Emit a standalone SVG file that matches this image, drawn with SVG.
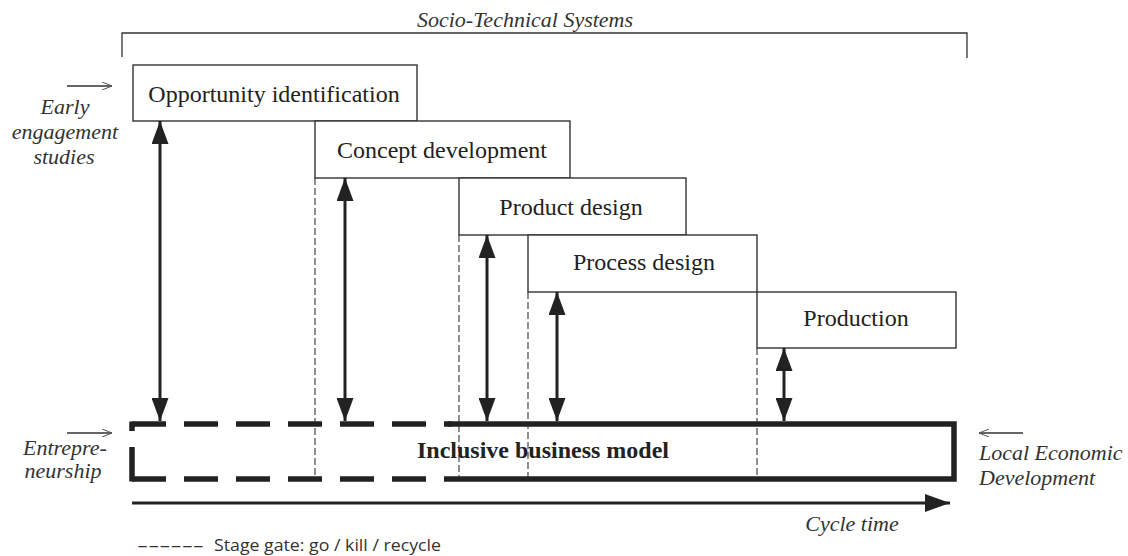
<svg xmlns="http://www.w3.org/2000/svg" width="1128" height="556" viewBox="0 0 1128 556">
<style>
.box{fill:#fff;stroke:#333;stroke-width:1.4}
.t{font-family:"Liberation Serif",serif;font-size:24px;fill:#222;text-anchor:middle}
.it{font-family:"Liberation Serif",serif;font-style:italic;font-size:22px;fill:#333}
.gate{stroke:#555;stroke-width:1.3;stroke-dasharray:7,3;fill:none}
.dbl{stroke:#222;stroke-width:3;fill:none}
.thin{stroke:#333;stroke-width:1.3;fill:none}
.thick{stroke:#222;stroke-width:5.5;fill:none}
</style>
<defs>
<marker id="ah2" viewBox="0 0 23 17" refX="23" refY="8.5" markerWidth="23" markerHeight="17" orient="auto-start-reverse" markerUnits="userSpaceOnUse">
<path d="M0,0 L23,8.5 L0,17 Z" fill="#222"/>
</marker>
<marker id="sm" viewBox="0 0 10 8" refX="10" refY="4" markerWidth="10" markerHeight="8" orient="auto" markerUnits="userSpaceOnUse">
<path d="M0,0 L10,4 L0,8" fill="none" stroke="#555" stroke-width="1"/>
</marker>
<marker id="big" viewBox="0 0 25 18" refX="25" refY="9" markerWidth="25" markerHeight="18" orient="auto" markerUnits="userSpaceOnUse">
<path d="M0,0 L25,9 L0,18 Z" fill="#222"/>
</marker>
</defs>

<g id="socio-technical">
<path class="thin" d="M122,57 V33 H967 V58"/>
<text class="it" x="525" y="27" text-anchor="middle">Socio-Technical Systems</text>
</g>

<g id="early-engagement">
<line class="thin" x1="67" y1="86" x2="112" y2="86" marker-end="url(#sm)"/>
<text class="it" x="65" y="114" text-anchor="middle">Early</text>
<text class="it" x="65" y="139" text-anchor="middle">engagement</text>
<text class="it" x="64" y="164" text-anchor="middle">studies</text>
</g>

<g id="entrepreneurship">
<line class="thin" x1="67" y1="433" x2="112" y2="433" marker-end="url(#sm)"/>
<text class="it" x="65" y="455" text-anchor="middle">Entrepre-</text>
<text class="it" x="63" y="478" text-anchor="middle">neurship</text>
</g>

<g id="local-economic">
<line class="thin" x1="1023" y1="433" x2="979" y2="433" marker-end="url(#sm)"/>
<text class="it" x="979" y="460">Local Economic</text>
<text class="it" x="979" y="485">Development</text>
</g>

<g id="stage-gates">
<line class="gate" x1="315" y1="178" x2="315" y2="479"/>
<line class="gate" x1="459" y1="235" x2="459" y2="479"/>
<line class="gate" x1="528" y1="292" x2="528" y2="479"/>
<line class="gate" x1="757" y1="348" x2="757" y2="479"/>
</g>

<g id="opportunity-identification">
<rect class="box" x="133" y="65" width="284" height="56"/>
<text class="t" x="274" y="102">Opportunity identification</text>
</g>
<g id="concept-development">
<rect class="box" x="315" y="121" width="255" height="57"/>
<text class="t" x="442" y="158">Concept development</text>
</g>
<g id="product-design">
<rect class="box" x="459" y="178" width="227" height="57"/>
<text class="t" x="571" y="215">Product design</text>
</g>
<g id="process-design">
<rect class="box" x="528" y="235" width="229" height="57"/>
<text class="t" x="644" y="270">Process design</text>
</g>
<g id="production">
<rect class="box" x="757" y="292" width="199" height="56"/>
<text class="t" x="856" y="326">Production</text>
</g>

<g id="inclusive-business-model">
<path class="thick" d="M448,424 H954 V479 H452"/>
<path class="thick" d="M132,424 H452 M132,479 H452" stroke-dasharray="34,18"/>
<path class="thick" d="M132,421.5 V431 M132,447 V481.5"/>
<text x="543" y="458" font-family="Liberation Serif,serif" font-weight="bold" font-size="24" fill="#222" text-anchor="middle">Inclusive business model</text>
</g>

<g id="connectors">
<line class="dbl" x1="160" y1="121" x2="160" y2="421" marker-start="url(#ah2)" marker-end="url(#ah2)"/>
<line class="dbl" x1="345" y1="178" x2="345" y2="421" marker-start="url(#ah2)" marker-end="url(#ah2)"/>
<line class="dbl" x1="487" y1="235" x2="487" y2="421" marker-start="url(#ah2)" marker-end="url(#ah2)"/>
<line class="dbl" x1="557" y1="292" x2="557" y2="421" marker-start="url(#ah2)" marker-end="url(#ah2)"/>
<line class="dbl" x1="784" y1="348" x2="784" y2="421" marker-start="url(#ah2)" marker-end="url(#ah2)"/>
</g>

<g id="cycle-time">
<line x1="132" y1="503" x2="950" y2="503" stroke="#222" stroke-width="3" marker-end="url(#big)"/>
<text class="it" x="852" y="531" text-anchor="middle">Cycle time</text>
</g>

<g id="legend">
<text x="137" y="551" font-family="Open Sans,Liberation Sans,sans-serif" font-size="16" fill="#333" textLength="67" lengthAdjust="spacingAndGlyphs">------</text>
<text x="214" y="551" font-family="Open Sans,Liberation Sans,sans-serif" font-size="16" fill="#333" textLength="227" lengthAdjust="spacingAndGlyphs">Stage gate: go / kill / recycle</text>
</g>
</svg>
